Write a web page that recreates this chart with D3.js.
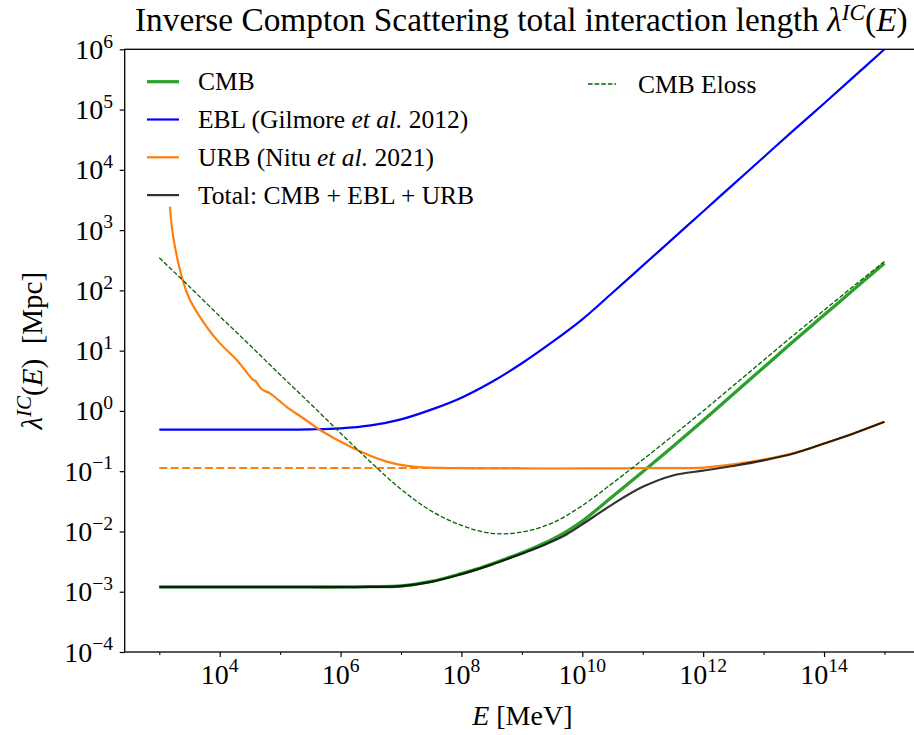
<!DOCTYPE html>
<html>
<head>
<meta charset="utf-8">
<script src="https://cdn.jsdelivr.net/npm/d3@7"></script>
<style>
  body { margin: 0; background: #fff; }
  svg { display: block; }
  text { font-family: "Liberation Serif", "DejaVu Serif", serif; fill: #000; }
</style>
</head>
<body>
<svg id="chart" width="914" height="735"></svg>
<script>
// ---- Interaction lengths lambda(E) in Mpc, energies in MeV ----
const cmbEnergy = [1e3, 3.16e3, 1e4, 3.16e4, 1e5, 3.16e5, 1e6, 3.16e6, 1e7, 3.16e7, 1e8, 1.78e8, 3.16e8, 5.62e8,
  1e9, 1.78e9, 3.16e9, 5.62e9, 1e10, 3.16e10, 1e11, 3.16e11, 1e12, 3.16e12, 1e13, 3.16e13, 1e14, 3.16e14, 1e15];
const cmbLength = [1.2e-3, 1.2e-3, 1.2e-3, 1.2e-3, 1.2e-3, 1.2e-3, 1.2e-3, 1.215e-3, 1.245e-3, 1.48e-3,
  2.0e-3, 2.37e-3, 2.88e-3, 3.55e-3, 4.42e-3, 5.62e-3, 7.33e-3, 1.01e-2, 1.48e-2, 3.80e-2,
  9.77e-2, 0.257, 0.692, 1.91, 5.25, 14.5, 38.9, 105, 282];

const eblEnergy = [1e3, 3.16e3, 1e4, 3.16e4, 1e5, 3.16e5, 1e6, 3.16e6, 1e7, 3.16e7, 1e8, 3.16e8,
  1e9, 3.16e9, 1e10, 3.16e10, 1e11, 3.16e11, 1e12, 3.16e12, 1e13, 3.16e13, 1e14, 3.16e14, 1e15];
const eblLength = [0.49, 0.49, 0.49, 0.49, 0.49, 0.495, 0.513, 0.575, 0.724, 1.05, 1.66, 3.02,
  6.17, 13.8, 33.1, 91.2, 257, 724, 2040, 5750, 16200, 45700, 126000, 355000, 1.0e6];

const urbEnergy = [1.5e3, 1.7e3, 2.35e3, 3.22e3, 6.08e3, 1.01e4, 1.91e4, 3.6e4, 3.86e4, 4.95e4, 6.79e4,
  1.28e5, 2.42e5, 4.56e5, 1.6e6, 5.8e6, 1.58e7, 1e8, 1e9, 1e10, 1e11, 1e12, 3.16e12, 1e13,
  3.16e13, 1e14, 3.16e14, 1e15];
const urbLength = [2440, 778, 169, 69.2, 24.9, 13.2, 7.0, 3.26, 3.17, 2.29, 1.96,
  1.17, 0.755, 0.482, 0.243, 0.144, 0.119, 0.112, 0.111, 0.111, 0.112, 0.115, 0.13, 0.156,
  0.20, 0.288, 0.427, 0.661];

// URB low-energy plateau (dashed)
const urbPlateauEnergy = [1e3, 1e9];
const urbPlateauLength = [0.113, 0.113];

const totalEnergy = cmbEnergy;
const totalLength = [1.19e-3, 1.19e-3, 1.19e-3, 1.19e-3, 1.19e-3, 1.19e-3, 1.19e-3, 1.205e-3, 1.235e-3, 1.46e-3,
  1.96e-3, 2.33e-3, 2.82e-3, 3.47e-3, 4.27e-3, 5.3e-3, 6.8e-3, 9.1e-3, 1.31e-2, 2.82e-2,
  5.5e-2, 8.5e-2, 0.102, 0.122, 0.151, 0.197, 0.288, 0.427, 0.661];

// CMB energy-loss length (dashed)
const elossEnergy = eblEnergy;
const elossLength = [347, 115, 37.2, 12.3, 3.98, 1.32, 0.427, 0.141, 0.0501, 0.0219, 0.0126, 0.00933,
  0.00977, 0.0138, 0.0269, 0.0631, 0.155, 0.389, 1.0, 2.63, 6.92, 18.2, 46.8, 120, 302];

const xTickExps = [4, 6, 8, 10, 12, 14];
const xMinorExps = [3, 5, 7, 9, 11, 13, 15];
const yTickExps = [-4, -3, -2, -1, 0, 1, 2, 3, 4, 5, 6];

const legendMain = [
  { label: ["CMB"], color: "#2ca02c", width: 3.2 },
  { label: ["EBL (Gilmore ", "*et al.*", " 2012)"], color: "#0000ff", width: 2.2 },
  { label: ["URB (Nitu ", "*et al.*", " 2021)"], color: "#ff7f0e", width: 2.2 },
  { label: ["Total: CMB + EBL + URB"], color: "#333333", width: 2.2 }
];

(function draw() {
  // ---- layout ----
  const svg = d3.select("#chart");
  const plotLeft = 124.7, plotTop = 49.3, plotBottom = 652;
  const decade = 60.43;
  const xMinExp = 3 - (159.3 - plotLeft) / decade;
  const xMaxExp = xMinExp + 13.16;

  const x = d3.scaleLog().domain([10 ** xMinExp, 10 ** xMaxExp]).range([plotLeft, plotLeft + 13.16 * decade]);
  const y = d3.scaleLog().domain([1e-4, 1e6]).range([plotBottom, plotTop]);
  const plotRight = x.range()[1];

  svg.append("defs").append("clipPath").attr("id", "plotclip")
    .append("rect").attr("x", plotLeft).attr("y", plotTop)
    .attr("width", plotRight - plotLeft).attr("height", plotBottom - plotTop);

  const line = d3.line().x(d => x(d[0])).y(d => y(d[1])).curve(d3.curveCatmullRom.alpha(0.5));
  const zip = (a, b) => a.map((v, i) => [v, b[i]]);

  const plot = svg.append("g").attr("clip-path", "url(#plotclip)");

  function curve(E, L, color, width, dash, opacity) {
    plot.append("path").datum(zip(E, L))
      .attr("d", line).attr("fill", "none")
      .attr("stroke", color).attr("stroke-width", width)
      .attr("stroke-dasharray", dash || null)
      .attr("stroke-opacity", opacity || 1)
      .attr("stroke-linejoin", "round");
  }

  curve(cmbEnergy, cmbLength, "#2ca02c", 3.3);
  curve(eblEnergy, eblLength, "#0000ff", 2.2);
  curve(urbEnergy, urbLength, "#ff7f0e", 2.2);
  curve(urbPlateauEnergy, urbPlateauLength, "#ff7f0e", 2.2, "8,3.4");
  curve(totalEnergy, totalLength, "#000000", 2.2, null, 0.8);
  curve(elossEnergy, elossLength, "#006400", 1.3, "4.6,2");

  // ---- frame ----
  svg.append("rect").attr("x", plotLeft).attr("y", plotTop)
    .attr("width", plotRight - plotLeft).attr("height", plotBottom - plotTop)
    .attr("fill", "none").attr("stroke", "#000").attr("stroke-width", 1.3);

  // ---- superscript helper ----
  function powerText(sel, exp, size) {
    sel.append("tspan").text("10");
    sel.append("tspan").attr("font-size", size * 0.7).attr("dy", -size * 0.4)
      .text(exp < 0 ? "\u2212" + Math.abs(exp) : String(exp));
  }

  // ---- x axis ----
  const gx = svg.append("g").attr("transform", `translate(0,${plotBottom})`)
    .call(d3.axisBottom(x).tickValues(xTickExps.map(e => 10 ** e)).tickSize(5).tickFormat(""));
  gx.select(".domain").remove();
  gx.selectAll(".tick line").attr("stroke-width", 1.2);
  const gxMinor = svg.append("g").attr("transform", `translate(0,${plotBottom})`)
    .call(d3.axisBottom(x).tickValues(xMinorExps.map(e => 10 ** e)).tickSize(3).tickFormat(""));
  gxMinor.select(".domain").remove();
  gxMinor.selectAll(".tick line").attr("stroke-width", 1);

  xTickExps.forEach(e => {
    const t = svg.append("text").attr("x", x(10 ** e)).attr("y", 683.5)
      .attr("text-anchor", "middle").attr("font-size", 28);
    powerText(t, e, 28);
  });

  // ---- y axis ----
  const gy = svg.append("g").attr("transform", `translate(${plotLeft},0)`)
    .call(d3.axisLeft(y).tickValues(yTickExps.map(e => 10 ** e)).tickSize(5).tickFormat(""));
  gy.select(".domain").remove();
  gy.selectAll(".tick line").attr("stroke-width", 1.2);

  yTickExps.forEach(e => {
    const t = svg.append("text").attr("x", 113).attr("y", y(10 ** e) + 9.5)
      .attr("text-anchor", "end").attr("font-size", 28);
    powerText(t, e, 28);
  });

  // ---- axis titles ----
  const xl = svg.append("text").attr("x", (plotLeft + plotRight) / 2).attr("y", 725)
    .attr("text-anchor", "middle").attr("font-size", 28);
  xl.append("tspan").attr("font-style", "italic").text("E");
  xl.append("tspan").text(" [MeV]");

  const yl = svg.append("text").attr("transform", `translate(42,${(plotTop + plotBottom) / 2}) rotate(-90)`)
    .attr("text-anchor", "middle").attr("font-size", 29);
  yl.append("tspan").attr("font-style", "italic").text("\u03bb");
  yl.append("tspan").attr("font-style", "italic").attr("font-size", 21).attr("dy", -11).text("IC");
  yl.append("tspan").attr("dy", 11).text("(");
  yl.append("tspan").attr("font-style", "italic").text("E");
  yl.append("tspan").text(")\u2002[Mpc]");

  // ---- title ----
  const title = svg.append("text").attr("x", 135).attr("y", 31).attr("font-size", 28);
  title.append("tspan").text("Inverse Compton Scattering total interaction length ");
  title.append("tspan").attr("font-style", "italic").text("\u03bb");
  title.append("tspan").attr("font-style", "italic").attr("font-size", "0.7em").attr("dy", -11).text("IC");
  title.append("tspan").attr("dy", 11).text("(");
  title.append("tspan").attr("font-style", "italic").text("E");
  title.append("tspan").text(")");
  const tw = title.node().getComputedTextLength();
  title.attr("font-size", 28 * 773 / tw);

  // ---- legends ----
  const legendY0 = 81.7, legendStep = 37.8;
  legendMain.forEach((d, i) => {
    const yy = legendY0 + i * legendStep;
    svg.append("line").attr("x1", 147).attr("x2", 179).attr("y1", yy).attr("y2", yy)
      .attr("stroke", d.color).attr("stroke-width", d.width);
    const t = svg.append("text").attr("x", 198).attr("y", yy + 8.5).attr("font-size", 25.5);
    d.label.forEach(part => {
      const it = part.startsWith("*");
      t.append("tspan").attr("font-style", it ? "italic" : null).text(it ? part.slice(1, -1) : part);
    });
  });

  svg.append("line").attr("x1", 588).attr("x2", 616).attr("y1", 84).attr("y2", 84)
    .attr("stroke", "#006400").attr("stroke-width", 1.3).attr("stroke-dasharray", "4.6,2");
  svg.append("text").attr("x", 638).attr("y", 92.5).attr("font-size", 25.5).text("CMB Eloss");
})();
</script>
</body>
</html>
